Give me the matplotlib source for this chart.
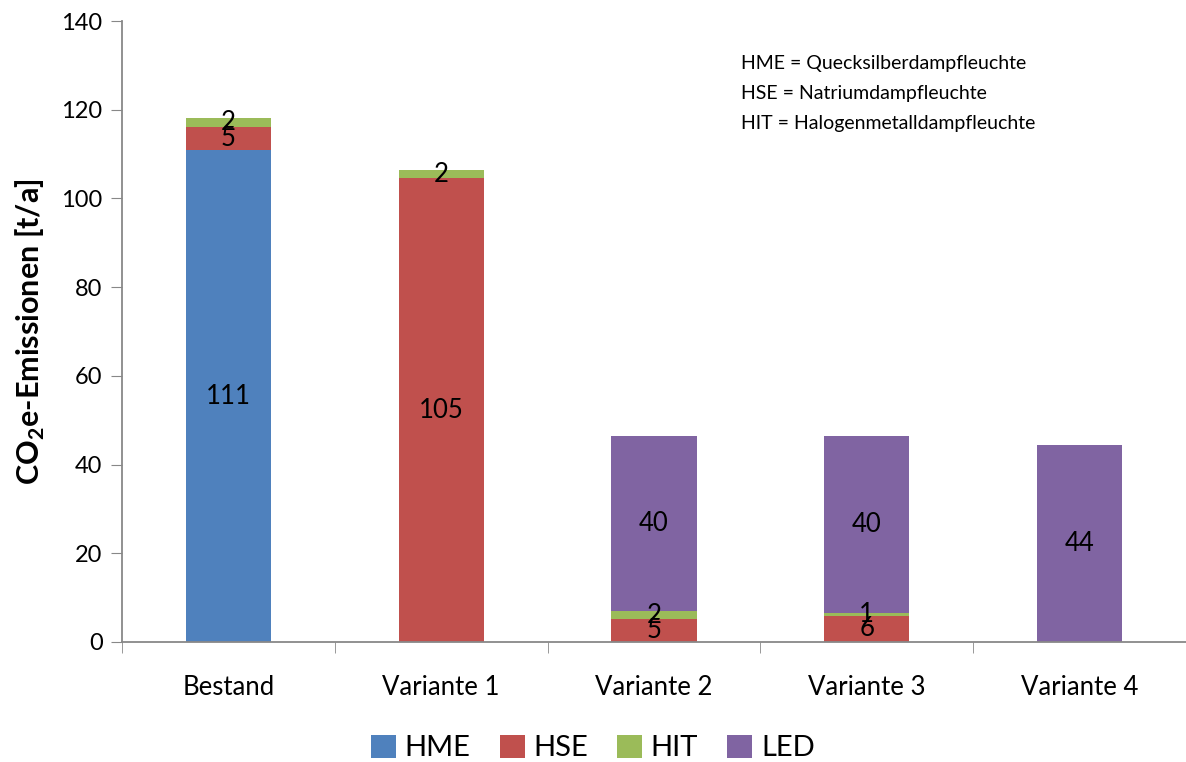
import matplotlib.pyplot as plt
import numpy as np

plt.rcParams['font.family'] = ['Lato', 'DejaVu Sans']
plt.rcParams['mathtext.fontset'] = 'custom'
plt.rcParams['mathtext.rm'] = 'Lato'
plt.rcParams['mathtext.bf'] = 'Lato:bold'

# Values (t/a)
categories = ['Bestand', 'Variante 1', 'Variante 2', 'Variante 3', 'Variante 4']
hme = [110.9, 0, 0, 0, 0]
hse = [5.2, 104.6, 5.2, 5.9, 0]
hit = [2.0, 1.8, 1.7, 0.7, 0]
led = [0, 0, 39.6, 39.9, 44.3]

series = [('HME', hme, '#4F81BD'), ('HSE', hse, '#C0504D'),
          ('HIT', hit, '#9BBB59'), ('LED', led, '#8064A2')]

fig = plt.figure(figsize=(11.86, 7.62), dpi=100)
ax = fig.add_axes([122 / 1186, 120 / 762, 1064 / 1186, 621 / 762])

x = np.arange(len(categories))
bottom = np.zeros(len(categories))
for name, vals, col in series:
    vals = np.array(vals)
    ax.bar(x, vals, width=0.40, bottom=bottom, color=col, label=name, zorder=2)
    for xi, b, v in zip(x, bottom, vals):
        if v > 0:
            ax.text(xi, b + v / 2, f'{v:.0f}', ha='center', va='center', fontsize=18.5, zorder=3)
    bottom += vals

ax.set_xlim(-0.5, 4.5)
ax.set_ylim(0, 140)
ax.set_yticks(np.arange(0, 141, 20))
ax.set_xticks(x)
ax.set_xticklabels(categories, fontsize=18.5)
ax.set_xticks(np.arange(-0.5, 4.6, 1), minor=True)
ax.tick_params(axis='x', which='major', length=0, pad=24)
ax.tick_params(axis='x', which='minor', length=8, color='#888888', direction='out')
ax.tick_params(axis='y', labelsize=17, length=8, color='#888888', direction='out', pad=6)

for s in ['top', 'right']:
    ax.spines[s].set_visible(False)
for s in ['left', 'bottom']:
    ax.spines[s].set_color('#888888')
    ax.spines[s].set_linewidth(1.3)

ax.set_ylabel(r'CO$_\mathbf{2}$e-Emissionen [t/a]', fontsize=22, fontweight='bold', labelpad=10)

fig.text(741 / 1186, 1 - 63 / 762, 'HME = Quecksilberdampfleuchte', fontsize=14, va='center')
fig.text(741 / 1186, 1 - 93 / 762, 'HSE = Natriumdampfleuchte', fontsize=14, va='center')
fig.text(741 / 1186, 1 - 123 / 762, 'HIT = Halogenmetalldampfleuchte', fontsize=14, va='center')

fig.legend(loc='center', bbox_to_anchor=(0.5, 14 / 762), ncol=4, frameon=False,
           fontsize=21, handlelength=0.85, handleheight=0.85, handletextpad=0.3, columnspacing=1.0)

plt.savefig('out.png', dpi=100)
